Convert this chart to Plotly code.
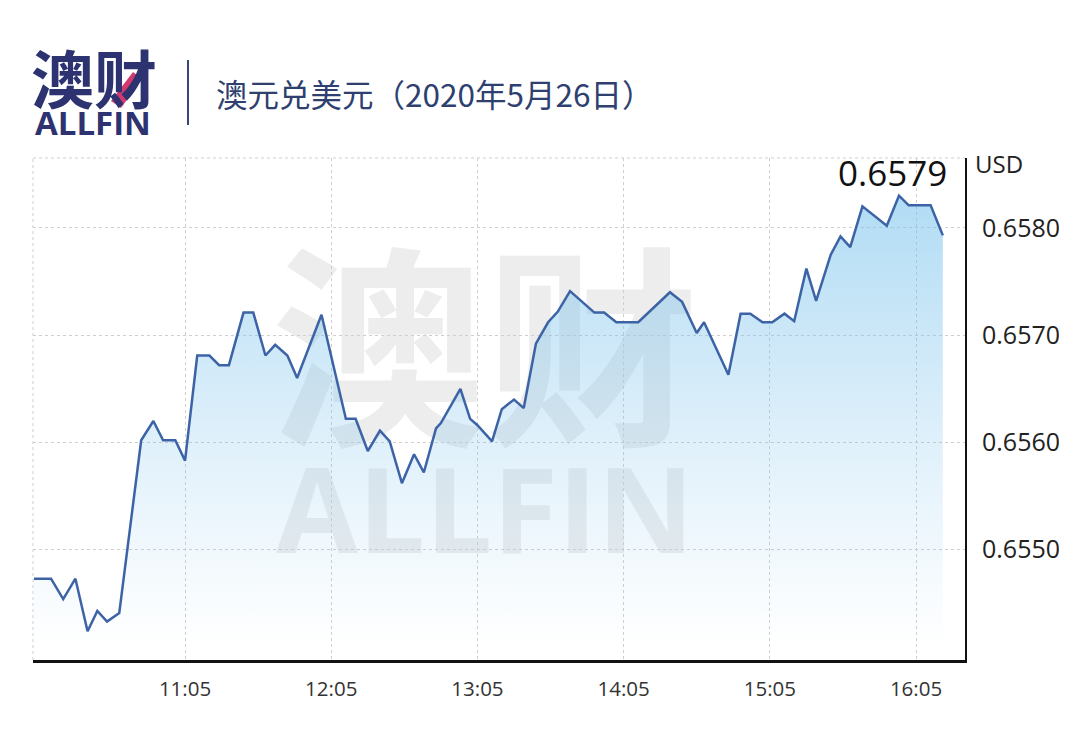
import plotly.graph_objects as go

# ---------------- data ----------------
times = ["10:03", "10:10", "10:15", "10:20", "10:25", "10:29", "10:33", "10:38",
         "10:47", "10:52", "10:56", "11:01", "11:05", "11:10", "11:15", "11:19",
         "11:23", "11:29", "11:33", "11:38", "11:42", "11:47", "11:51", "12:01",
         "12:11", "12:15", "12:20", "12:25", "12:29", "12:34", "12:39", "12:43",
         "12:48", "12:50", "12:58", "13:02", "13:05", "13:11", "13:15", "13:20",
         "13:24", "13:29", "13:34", "13:38", "13:43", "13:48", "13:53", "13:57",
         "14:02", "14:11", "14:24", "14:29", "14:35", "14:38", "14:42", "14:48",
         "14:53", "14:57", "15:02", "15:06", "15:11", "15:15", "15:20", "15:24",
         "15:30", "15:34", "15:38", "15:43", "15:53", "15:58", "16:02", "16:11",
         "16:16"]
rates = [0.65473, 0.65473, 0.65454, 0.65473, 0.65424, 0.65443, 0.65433, 0.65441,
         0.65602, 0.65620, 0.65602, 0.65602, 0.65583, 0.65681, 0.65681, 0.65672,
         0.65672, 0.65721, 0.65721, 0.65681, 0.65691, 0.65681, 0.65660, 0.65719,
         0.65622, 0.65622, 0.65592, 0.65611, 0.65601, 0.65562, 0.65589, 0.65572,
         0.65613, 0.65618, 0.65650, 0.65622, 0.65616, 0.65601, 0.65631, 0.65640,
         0.65632, 0.65692, 0.65712, 0.65722, 0.65741, 0.65731, 0.65721, 0.65721,
         0.65712, 0.65712, 0.65740, 0.65731, 0.65702, 0.65712, 0.65692, 0.65663,
         0.65720, 0.65720, 0.65712, 0.65712, 0.65720, 0.65713, 0.65762, 0.65732,
         0.65775, 0.65792, 0.65782, 0.65820, 0.65802, 0.65830, 0.65821, 0.65821,
         0.65793]
x_tick_labels = ["11:05", "12:05", "13:05", "14:05", "15:05", "16:05"]
y_tick_values = [0.6550, 0.6560, 0.6570, 0.6580]
date = "2020-05-26"
title_text = "澳元兑美元（2020年5月26日）"
unit_text = "USD"
last_value_text = f"{rates[-1]:.4f}"

# ---------------- figure ----------------
# page is rendered with an 8px body margin: figure occupies page px 8..1059 / 8..725
OFF = 8
PAGE_W, PAGE_H = 1067, 733
W, H = PAGE_W - 2 * OFF, PAGE_H - 2 * OFF
L, R, T, B = 33, 965, 158, 660  # plot area in page pixels


def px(xp):
    return (xp - L) / (R - L)


def py(yp):
    return (B - yp) / (B - T)


FONT = "Noto Sans CJK SC"
NUMFONT = "Open Sans"
NAVY = "#2d3370"
GRID = "#cfcfcf"

xs = [f"{date} {t}:00" for t in times]

fig = go.Figure()
fig.add_trace(go.Scatter(
    x=xs, y=rates, mode="lines",
    line=dict(color="#3d63a7", width=2.5),
    fill="tozeroy",
    fillgradient=dict(
        type="vertical",
        colorscale=[[0, "rgba(140,200,238,0.0)"], [1, "rgba(115,192,236,0.56)"]],
        start=0.6541, stop=0.6583,
    ),
    hoverinfo="x+y",
    showlegend=False,
))

fig.update_layout(
    width=W, height=H,
    margin=dict(l=L - OFF, r=(PAGE_W - OFF) - R, t=T - OFF, b=(PAGE_H - OFF) - B,
                pad=0, autoexpand=False),
    paper_bgcolor="white", plot_bgcolor="white",
    font=dict(family=FONT, color="#222"),
    xaxis=dict(
        type="date",
        range=[f"{date} 10:02:36", f"{date} 16:25:06"],
        tickvals=[f"{date} {t}:00" for t in x_tick_labels],
        ticktext=x_tick_labels,
        showgrid=True, gridcolor=GRID, griddash="dot", gridwidth=1,
        showline=True, linecolor="#111", linewidth=2.5,
        ticks="", ticklabelstandoff=9,
        tickfont=dict(size=20.5, color="#333", family=NUMFONT),
        zeroline=False, fixedrange=True, automargin=False,
    ),
    yaxis=dict(
        side="right",
        range=[0.653972, 0.658651],
        tickvals=y_tick_values,
        ticktext=[f"{v:.4f}" for v in y_tick_values],
        showgrid=True, gridcolor=GRID, griddash="dot", gridwidth=1,
        showline=True, linecolor="#111", linewidth=2,
        ticks="", ticklabelstandoff=10,
        tickfont=dict(size=25, color="#222", family=NUMFONT),
        zeroline=False, fixedrange=True, automargin=False,
    ),
)

# dotted borders on top and left of the plot area
fig.add_shape(type="line", xref="paper", yref="paper", x0=0, x1=1, y0=1, y1=1,
              line=dict(color=GRID, width=1, dash="dot"), layer="below")
fig.add_shape(type="line", xref="paper", yref="paper", x0=0, x1=0, y0=0, y1=1,
              line=dict(color=GRID, width=1, dash="dot"), layer="below")

# watermark (below the trace)
fig.add_shape(type="rect", xref="paper", yref="paper",
              x0=px(270), x1=px(700), y0=py(478), y1=py(262),
              line=dict(width=0), fillcolor="rgba(0,0,0,0)", layer="below",
              label=dict(text="<b>澳财</b>", textposition="middle center",
                         font=dict(family=FONT, size=214, color="#ededed")))
fig.add_shape(type="rect", xref="paper", yref="paper",
              x0=px(270), x1=px(700), y0=py(566), y1=py(463),
              line=dict(width=0), fillcolor="rgba(0,0,0,0)", layer="below",
              label=dict(text="<b>ALLFIN</b>", textposition="middle center",
                         font=dict(family=NUMFONT, size=119, color="#ededed")))

# header: logo, separator, title
fig.add_annotation(xref="paper", yref="paper", x=px(94), y=py(76),
                   text="<b>澳财</b>", showarrow=False, xanchor="center", yanchor="middle",
                   font=dict(family=FONT, size=63, color=NAVY))
# pink accent stroke of the logo
accent = [(111, 101), (121, 108), (142, 79), (133, 72)]
path = "M " + " L ".join(f"{px(a):.5f},{py(b):.5f}" for a, b in accent) + " Z"
fig.add_shape(type="path", xref="paper", yref="paper", path=path,
              fillcolor="#d3386e", line=dict(width=0), layer="above")
fig.add_annotation(xref="paper", yref="paper", x=px(93), y=py(122),
                   text="<b>ALLFIN</b>", showarrow=False, xanchor="center", yanchor="middle",
                   font=dict(family=NUMFONT, size=33, color=NAVY))
fig.add_shape(type="line", xref="paper", yref="paper",
              x0=px(188), x1=px(188), y0=py(60), y1=py(125),
              line=dict(color="#3a4775", width=2))
fig.add_annotation(xref="paper", yref="paper", x=px(214), y=py(93),
                   text=title_text, showarrow=False, xanchor="left", yanchor="middle",
                   font=dict(family=FONT, size=31.5, color="#2e3f70"))

# unit and latest value
fig.add_annotation(xref="paper", yref="paper", x=px(973), y=py(163),
                   text=unit_text, showarrow=False, xanchor="left", yanchor="middle",
                   font=dict(family=NUMFONT, size=24, color="#222"))
fig.add_annotation(xref="paper", yref="paper", x=px(949), y=py(172),
                   text=last_value_text, showarrow=False, xanchor="right", yanchor="middle",
                   font=dict(family=NUMFONT, size=35, color="#111"))

fig.write_html("out.html")
